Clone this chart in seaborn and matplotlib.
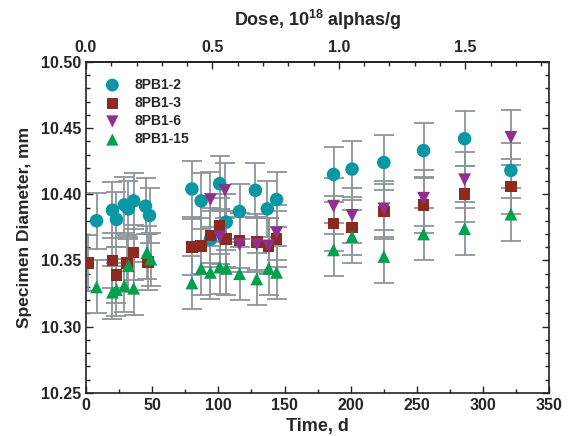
import numpy as np
import pandas as pd
import seaborn as sns
import matplotlib
matplotlib.use("Agg")
import matplotlib.pyplot as plt
from matplotlib.ticker import MultipleLocator

# ---- data ----
t_2 = [8, 20, 23, 29, 32, 36, 45, 48, 80, 87, 94, 101, 106, 116, 128, 137, 144, 187, 201, 225, 255, 286, 321]
d_2 = [10.380, 10.388, 10.381, 10.392, 10.389, 10.395, 10.391, 10.384, 10.404, 10.395, 10.366, 10.408,
       10.379, 10.387, 10.403, 10.389, 10.396, 10.415, 10.419, 10.424, 10.433, 10.442, 10.418]
e_2 = [0.021] * len(t_2)

t_3 = [1.5, 20, 23, 31, 36, 47, 80, 87, 94, 101, 106, 116, 129, 138, 144, 187, 201, 225, 255, 286, 321]
d_3 = [10.348, 10.350, 10.339, 10.348, 10.356, 10.349, 10.360, 10.361, 10.369, 10.376, 10.366, 10.365,
       10.364, 10.361, 10.366, 10.378, 10.375, 10.387, 10.392, 10.400, 10.406]
e_3 = [0.021] * len(t_3)

t_6 = [94, 101, 105, 116, 129, 138, 144, 187, 201, 225, 255, 286, 321]
d_6 = [10.396, 10.368, 10.403, 10.362, 10.362, 10.361, 10.371, 10.391, 10.384, 10.389, 10.397, 10.411, 10.443]
e_6 = [0.021] * len(t_6)

t_15 = [8, 20, 23, 29, 32, 36, 46, 49, 80, 87, 94, 101, 106, 116, 129, 138, 144, 187, 201, 225, 255, 286, 321]
d_15 = [10.330, 10.326, 10.328, 10.331, 10.346, 10.329, 10.356, 10.351, 10.333, 10.344, 10.341, 10.345,
        10.344, 10.340, 10.336, 10.344, 10.341, 10.358, 10.368, 10.353, 10.370, 10.374, 10.385]
e_15 = [0.020] * len(t_15)

series_names = ["8PB1-2", "8PB1-3", "8PB1-6", "8PB1-15"]
dose_ticks = [0.0, 0.5, 1.0, 1.5]
days_per_dose = 191.0

frames = []
for name, t, d, e in zip(series_names, [t_2, t_3, t_6, t_15], [d_2, d_3, d_6, d_15], [e_2, e_3, e_6, e_15]):
    frames.append(pd.DataFrame({"time": t, "diam": d, "err": e, "series": name}))
df = pd.concat(frames, ignore_index=True)

# ---- style ----
sns.set_theme(style="ticks")
plt.rcParams["font.family"] = ["Liberation Sans", "DejaVu Sans"]
plt.rcParams["font.weight"] = "bold"
plt.rcParams["mathtext.fontset"] = "custom"
plt.rcParams["mathtext.rm"] = "Liberation Sans:bold"
plt.rcParams["mathtext.it"] = "Liberation Sans:bold"
plt.rcParams["mathtext.bf"] = "Liberation Sans:bold"

colors = {"8PB1-2": "#0a97a4", "8PB1-3": "#8c2a20", "8PB1-6": "#8f2f8e", "8PB1-15": "#04a04c"}
markers = {"8PB1-2": "o", "8PB1-3": "s", "8PB1-6": "v", "8PB1-15": "^"}
sizes = {"8PB1-2": 95, "8PB1-3": 70, "8PB1-6": 85, "8PB1-15": 85}

fig = plt.figure(figsize=(5.77, 4.36), dpi=100)
ax = fig.add_axes([0.149, 0.099, 0.803, 0.759])

# error bars (gray, behind markers)
ax.errorbar(df["time"], df["diam"], yerr=df["err"], fmt="none", ecolor="#8c959b",
            elinewidth=1.3, capsize=7, capthick=1.3, zorder=1)

for name in series_names:
    sub = df[df["series"] == name]
    sns.scatterplot(data=sub, x="time", y="diam", ax=ax, color=colors[name],
                    marker=markers[name], s=sizes[name], edgecolor="none",
                    linewidth=0, label=name, zorder=3)

ax.set_xlim(0, 350)
ax.set_ylim(10.25, 10.50)
ax.xaxis.set_major_locator(MultipleLocator(50))
ax.xaxis.set_minor_locator(MultipleLocator(25))
ax.yaxis.set_major_locator(MultipleLocator(0.05))
ax.yaxis.set_minor_locator(MultipleLocator(0.01))
ax.yaxis.set_major_formatter(matplotlib.ticker.FormatStrFormatter("%.2f"))
ax.tick_params(axis="both", which="both", direction="in", right=True, top=False,
               labelsize=11.5, width=1.0, color="#222222")
ax.tick_params(which="major", length=5)
ax.tick_params(which="minor", length=3)
for lab in ax.get_xticklabels() + ax.get_yticklabels():
    lab.set_fontweight("bold")
for sp in ax.spines.values():
    sp.set_linewidth(1.2)
    sp.set_color("#222222")

ax.set_xlabel("Time, d", fontsize=13, fontweight="bold", labelpad=4)
ax.set_ylabel("Specimen Diameter, mm", fontsize=12.5, fontweight="bold", labelpad=6)

# top dose axis
sec = ax.secondary_xaxis("top", functions=(lambda x: x / days_per_dose, lambda d: d * days_per_dose))
sec.set_xticks(dose_ticks)
sec.set_xticklabels([f"{v:.1f}" for v in dose_ticks], fontweight="bold")
sec.xaxis.set_minor_locator(MultipleLocator(0.1))
sec.tick_params(axis="x", which="both", direction="in", labelsize=11.5, width=1.0, pad=5)
sec.tick_params(which="major", length=5)
sec.tick_params(which="minor", length=3)
sec.set_xlabel("Dose, 10$^{18}$ alphas/g", fontsize=13, fontweight="bold", labelpad=10)

leg = ax.legend(loc="upper left", bbox_to_anchor=(0.0, 0.99), frameon=False,
                fontsize=10, handletextpad=0.6, labelspacing=0.3, markerscale=0.95)
for txt in leg.get_texts():
    txt.set_fontweight("bold")

fig.savefig("out.png", dpi=100)
